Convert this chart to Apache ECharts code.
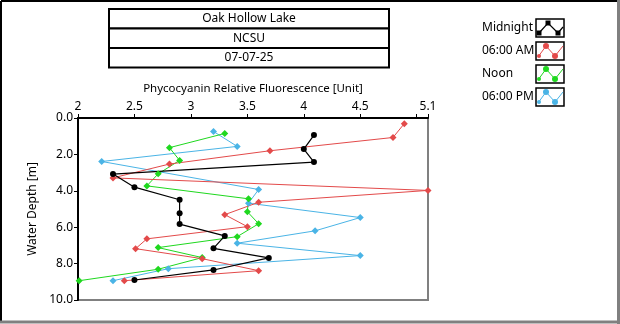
<!DOCTYPE html>
<html>
<head>
<meta charset="utf-8">
<script src="https://cdn.jsdelivr.net/npm/echarts@6/dist/echarts.min.js"></script>
<style>
  html, body { margin: 0; padding: 0; background: #fff; }
  #chart { width: 620px; height: 324px; }
</style>
</head>
<body>
<div id="chart"></div>
<script>
// Header lines shown in the stacked boxes above the plot
const titleLines = ['Oak Hollow Lake', 'NCSU', '07-07-25'];

// Series names and colours
const seriesNames = ['Midnight', '06:00 AM', 'Noon', '06:00 PM'];
const seriesColors = ['#000000', '#e34a4a', '#1fd81f', '#4ab4e6'];

// Midnight profile: depth [m] and phycocyanin reading
const midnightDepth = [0.94, 1.71, 2.42, 3.08, 3.80, 4.49, 5.23, 5.83, 6.48, 7.16, 7.69, 8.35, 8.90];
const midnightValue = [4.09, 4.00, 4.09, 2.31, 2.50, 2.90, 2.90, 2.90, 3.30, 3.20, 3.69, 3.20, 2.50];

// 06:00 AM profile
const amDepth = [0.31, 1.07, 1.80, 2.53, 3.29, 3.98, 4.63, 5.31, 5.97, 6.64, 7.18, 7.73, 8.39, 8.94];
const amValue = [4.89, 4.79, 3.70, 2.81, 2.31, 5.10, 3.60, 3.30, 3.50, 2.61, 2.51, 3.10, 3.60, 2.41];

// Noon profile
const noonDepth = [0.85, 1.63, 2.33, 3.07, 3.73, 4.44, 5.15, 5.81, 6.52, 7.12, 7.67, 8.31, 8.94];
const noonValue = [3.30, 2.81, 2.90, 2.71, 2.61, 3.51, 3.50, 3.60, 3.41, 2.71, 3.10, 2.71, 2.01];

// 06:00 PM profile
const pmDepth = [0.74, 1.56, 2.39, 3.93, 4.68, 5.47, 6.20, 6.88, 7.56, 8.28, 8.94];
const pmValue = [3.20, 3.41, 2.21, 3.60, 3.51, 4.50, 4.10, 3.41, 4.50, 2.80, 2.31];

// Axis ranges and tick labels
const xTickValues = [2, 2.5, 3, 3.5, 4, 4.5, 5, 5.1];
const xTickLabels = ['2', '2.5', '3', '3.5', '4', '4.5', '', '5.1'];
const yTickValues = [0, 2, 4, 6, 8, 10];
const yTickLabels = ['0.0', '2.0', '4.0', '6.0', '8.0', '10.0'];

const FONT = 'Noto Sans';

function pairs(values, depths) {
  return values.map((v, i) => [v, depths[i]]);
}

const profiles = [
  { name: seriesNames[3], data: pairs(pmValue, pmDepth), color: seriesColors[3], symbol: 'diamond', size: 7, width: 1 },
  { name: seriesNames[2], data: pairs(noonValue, noonDepth), color: seriesColors[2], symbol: 'diamond', size: 7, width: 1 },
  { name: seriesNames[1], data: pairs(amValue, amDepth), color: seriesColors[1], symbol: 'diamond', size: 7, width: 1 },
  { name: seriesNames[0], data: pairs(midnightValue, midnightDepth), color: seriesColors[0], symbol: 'circle', size: 6, width: 1.2 }
];

function xLabel(v) {
  for (let i = 0; i < xTickValues.length; i++) {
    if (Math.abs(xTickValues[i] - v) < 1e-6) return xTickLabels[i];
  }
  return '';
}
function yLabel(v) {
  for (let i = 0; i < yTickValues.length; i++) {
    if (Math.abs(yTickValues[i] - v) < 1e-6) return yTickLabels[i];
  }
  return '';
}

// Decorative elements: outer frame, title boxes, legend swatches
const graphics = [];
// window frame: dark top/left, grey bottom/right
graphics.push({ type: 'line', shape: { x1: 1, y1: 1, x2: 619, y2: 1 }, style: { stroke: '#000', lineWidth: 2 } });
graphics.push({ type: 'line', shape: { x1: 1, y1: 1, x2: 1, y2: 323 }, style: { stroke: '#000', lineWidth: 2 } });
graphics.push({ type: 'line', shape: { x1: 618.5, y1: 0, x2: 618.5, y2: 324 }, style: { stroke: '#808080', lineWidth: 3 } });
graphics.push({ type: 'line', shape: { x1: 0, y1: 322, x2: 620, y2: 322 }, style: { stroke: '#808080', lineWidth: 3 } });

const boxTops = [9, 28.5, 48];
const boxH = 19.5;
titleLines.forEach((t, i) => {
  graphics.push({ type: 'rect', shape: { x: 109, y: boxTops[i], width: 280, height: boxH },
    style: { fill: '#fff', stroke: '#000', lineWidth: 2 } });
  graphics.push({ type: 'text', x: 249, y: boxTops[i] + boxH / 2,
    style: { text: t, font: '12px "' + FONT + '"', fill: '#000', align: 'center', verticalAlign: 'middle' } });
});

const legendTops = [19, 42, 65, 88];
seriesNames.forEach((n, i) => {
  const top = legendTops[i];
  graphics.push({ type: 'text', x: 482, y: top + 9,
    style: { text: n, font: '12px "' + FONT + '"', fill: '#000', align: 'left', verticalAlign: 'middle' } });
  graphics.push({ type: 'rect', shape: { x: 536, y: top, width: 28, height: 18 },
    style: { fill: '#fff', stroke: '#000', lineWidth: 1.5 } });
  let pts, marks;
  if (i === 0) {
    pts = [[539, top + 14], [548, top + 4], [558, top + 14], [563, top + 8]];
    marks = pts.slice(0, 3);
    graphics.push({ type: 'polyline', shape: { points: pts }, style: { stroke: seriesColors[i], lineWidth: 1.2, fill: null } });
    marks.forEach(p => graphics.push({ type: 'rect', shape: { x: p[0] - 2.5, y: p[1] - 2.5, width: 5, height: 5 }, style: { fill: seriesColors[i] } }));
  } else {
    pts = [[538, top + 15], [546, top + 4], [555, top + 14], [563, top + 4]];
    marks = [pts[1], pts[2]];
    graphics.push({ type: 'polyline', shape: { points: pts }, style: { stroke: seriesColors[i], lineWidth: 1, fill: null } });
    graphics.push({ type: 'circle', shape: { cx: 539, cy: top + 14, r: 2 }, style: { fill: seriesColors[i] } });
    marks.forEach(p => graphics.push({ type: 'circle', shape: { cx: p[0], cy: p[1], r: 3 }, style: { fill: seriesColors[i] } }));
  }
});

const chart = echarts.init(document.getElementById('chart'), null, { renderer: 'canvas' });
chart.setOption({
  animation: false,
  backgroundColor: '#fff',
  textStyle: { fontFamily: FONT },
  grid: {
    left: 78, top: 118, width: 350, height: 182,
    show: true, borderColor: '#808080', borderWidth: 2, backgroundColor: '#fff'
  },
  xAxis: {
    type: 'value', position: 'top', min: 2, max: 5.1, interval: 0.5,
    name: 'Phycocyanin Relative Fluorescence [Unit]', nameLocation: 'middle', nameGap: 23,
    nameTextStyle: { color: '#000', fontSize: 11.5, fontFamily: FONT },
    axisLine: { show: true, lineStyle: { color: '#000', width: 2 } },
    axisTick: { show: true, length: 4, lineStyle: { color: '#000', width: 1 } },
    axisLabel: { show: true, showMaxLabel: true, showMinLabel: true, color: '#000', fontSize: 12, fontFamily: FONT, margin: 5, formatter: xLabel },
    splitLine: { show: false }
  },
  yAxis: {
    type: 'value', inverse: true, min: 0, max: 10, interval: 2,
    name: 'Water Depth [m]', nameLocation: 'middle', nameGap: 37, nameRotate: 90,
    nameTextStyle: { color: '#000', fontSize: 12, fontFamily: FONT },
    axisLine: { show: true, lineStyle: { color: '#000', width: 2 } },
    axisTick: { show: true, length: 4, lineStyle: { color: '#000', width: 1 } },
    axisLabel: { color: '#000', fontSize: 12, fontFamily: FONT, margin: 5, formatter: yLabel },
    splitLine: { show: false }
  },
  series: profiles.map(p => ({
    type: 'line', name: p.name, data: p.data,
    symbol: p.symbol, symbolSize: p.size, showSymbol: true,
    lineStyle: { color: p.color, width: p.width },
    itemStyle: { color: p.color },
    clip: false
  })),
  graphic: graphics
});
</script>
</body>
</html>
